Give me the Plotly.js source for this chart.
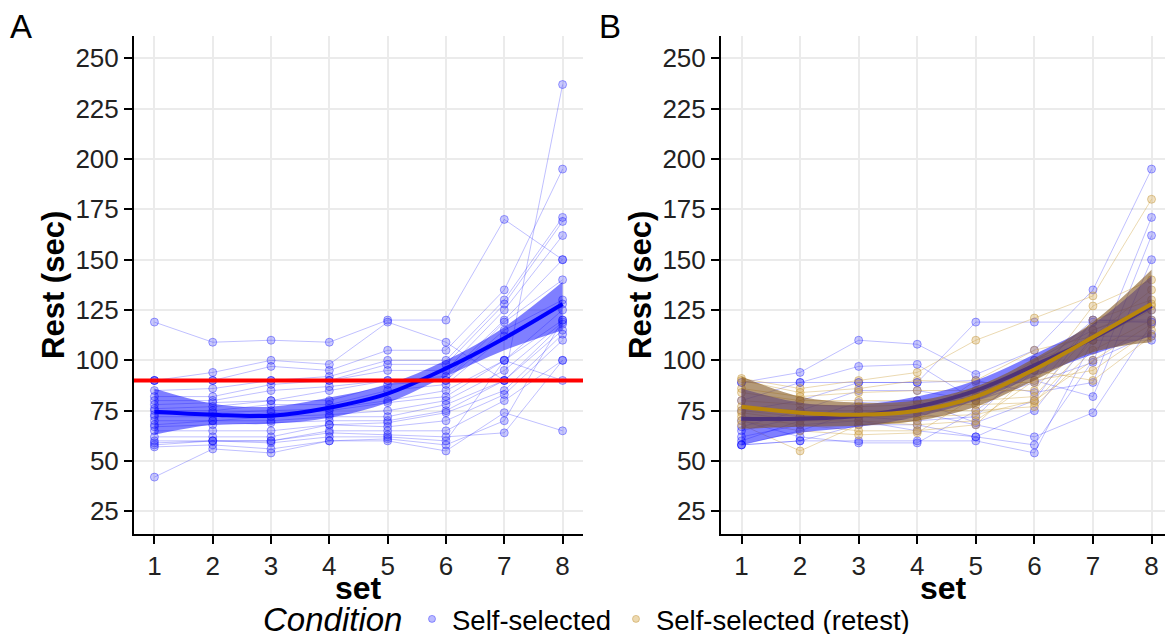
<!DOCTYPE html>
<html>
<head>
<meta charset="utf-8">
<script src="https://cdn.plot.ly/plotly-3.0.1.min.js"></script>
<style>html,body{margin:0;padding:0;background:#fff;}#chart{width:1165px;height:634px;}</style>
</head>
<body>
<div id="chart"></div>
<script>
// ---------------- data ----------------
const sets = [1, 2, 3, 4, 5, 6, 7, 8];
const yTicks = [25, 50, 75, 100, 125, 150, 175, 200, 225, 250];
const threshold = 90;

// Panel A: self-selected rest per participant (sets 1..8)
const restA = [
  [119, 109, 110, 109, 120, 120, 170, 150],
  [90, 94, 100, 98, 119, 109, 90, 237],
  [90, 90, 97, 95, 105, 105, 135, 195],
  [90, 90, 90, 92, 100, 100, 130, 171],
  [85, 86, 90, 90, 98, 98, 128, 169],
  [82, 82, 88, 90, 95, 95, 125, 162],
  [80, 80, 85, 87, 90, 92, 120, 150],
  [78, 79, 80, 85, 90, 90, 119, 140],
  [76, 77, 80, 80, 88, 90, 115, 130],
  [75, 75, 78, 78, 85, 88, 112, 128],
  [73, 74, 75, 76, 80, 85, 100, 125],
  [72, 72, 74, 75, 79, 82, 100, 120],
  [70, 70, 72, 73, 75, 80, 95, 119],
  [68, 70, 70, 72, 72, 78, 90, 118],
  [67, 68, 69, 70, 70, 75, 90, 115],
  [65, 65, 65, 68, 69, 74, 85, 113],
  [62, 62, 62, 68, 67, 70, 83, 110],
  [60, 60, 60, 65, 65, 65, 80, 100],
  [59, 60, 60, 64, 63, 62, 64, 100],
  [58, 60, 59, 62, 62, 60, 100, 90],
  [57, 58, 56, 60, 61, 58, 70, 120],
  [42, 56, 54, 60, 60, 55, 74, 65]
];
const fitA = [74.5, 73, 72.5, 76.5, 83.5, 96, 111, 128];
const fitALo = [63, 68, 68.5, 71.5, 79, 92, 105, 115];
const fitAHi = [86, 78.5, 77, 81.5, 88, 100, 116.5, 139];

// Panel B: self-selected (blue) and retest (tan) per participant
const restB = [
  [89, 94, 110, 108, 93, 105, 135, 195],
  [80, 89, 97, 98, 80, 89, 99, 171],
  [75, 80, 89, 89, 90, 84, 89, 162],
  [67, 75, 85, 85, 80, 90, 82, 150],
  [60, 70, 79, 80, 69, 80, 120, 119],
  [58, 65, 75, 74, 68, 62, 74, 118],
  [58, 60, 68, 68, 62, 58, 100, 113],
  [58, 60, 60, 60, 60, 54, 110, 110],
  [70, 62, 59, 59, 75, 95, 120, 120],
  [65, 72, 72, 70, 72, 100, 115, 125],
  [62, 68, 70, 65, 62, 75, 112, 112],
  [89, 89, 89, 89, 119, 119, 119, 119]
];
const retestB = [
  [91, 86, 90, 94, 110, 121, 132, 180],
  [90, 84, 86, 90, 89, 89, 127, 140],
  [86, 82, 84, 85, 85, 85, 120, 130],
  [84, 80, 80, 80, 80, 82, 115, 127],
  [80, 78, 77, 78, 78, 79, 110, 125],
  [77, 75, 75, 75, 75, 77, 105, 120],
  [75, 72, 72, 72, 73, 80, 100, 118],
  [74, 70, 70, 68, 70, 90, 95, 115],
  [72, 68, 65, 65, 68, 95, 90, 112],
  [70, 65, 63, 64, 82, 100, 110, 128],
  [68, 55, 68, 70, 90, 105, 112, 135]
];
const fitB = [71, 71, 72.5, 77, 85, 97.5, 111, 127];
const fitBLo = [58, 64, 67, 72, 80, 92, 103, 112];
const fitBHi = [86, 79, 78, 82, 90, 103, 118, 142];
const fitR = [77, 74, 73, 75, 82, 95.5, 111.5, 128];
const fitRLo = [66, 67, 67.5, 70, 77, 90, 104, 109];
const fitRHi = [92, 82, 79, 80, 87, 101, 119, 145];

const conditionNames = ['Self-selected', 'Self-selected (retest)'];
const legendTitle = 'Condition';
const xTitle = 'set';
const yTitle = 'Rest (sec)';
const panelLabels = ['A', 'B'];

// ---------------- styles ----------------
const FONT = 'Liberation Sans, Arial, sans-serif';
const BLUE_LINE = 'rgba(0,0,255,0.25)';
const BLUE_FILL = 'rgba(60,60,255,0.28)';
const BLUE_EDGE = 'rgba(0,0,255,0.35)';
const TAN_LINE = 'rgba(205,160,60,0.40)';
const TAN_FILL = 'rgba(215,170,80,0.35)';
const TAN_EDGE = 'rgba(190,145,50,0.45)';

const traces = [];
function addIndividuals(rows, xa, ya, lc, mf, me) {
  rows.forEach(r => traces.push({
    type: 'scatter', mode: 'lines+markers', x: sets, y: r, xaxis: xa, yaxis: ya,
    line: {color: lc, width: 1},
    marker: {size: 8, color: mf, line: {color: me, width: 1}},
    showlegend: false, hoverinfo: 'skip'
  }));
}
function addRibbon(lo, hi, xa, ya, fill) {
  traces.push({type: 'scatter', mode: 'lines', x: sets, y: hi, xaxis: xa, yaxis: ya,
    line: {width: 0, shape: 'spline'}, showlegend: false, hoverinfo: 'skip'});
  traces.push({type: 'scatter', mode: 'lines', x: sets, y: lo, xaxis: xa, yaxis: ya,
    line: {width: 0, shape: 'spline'}, fill: 'tonexty', fillcolor: fill,
    showlegend: false, hoverinfo: 'skip'});
}
function addFit(y, xa, ya, col) {
  traces.push({type: 'scatter', mode: 'lines', x: sets, y: y, xaxis: xa, yaxis: ya,
    line: {color: col, width: 4, shape: 'spline'}, showlegend: false, hoverinfo: 'skip'});
}

// Panel A
addIndividuals(restA, 'x', 'y', BLUE_LINE, BLUE_FILL, BLUE_EDGE);
addRibbon(fitALo, fitAHi, 'x', 'y', 'rgba(0,0,255,0.5)');
addFit(fitA, 'x', 'y', '#0000ff');

// Panel B
addIndividuals(restB, 'x2', 'y2', BLUE_LINE, BLUE_FILL, BLUE_EDGE);
addIndividuals(retestB, 'x2', 'y2', TAN_LINE, TAN_FILL, TAN_EDGE);
addRibbon(fitBLo, fitBHi, 'x2', 'y2', 'rgba(0,0,255,0.5)');
addFit(fitB, 'x2', 'y2', '#0000ff');
addRibbon(fitRLo, fitRHi, 'x2', 'y2', 'rgba(130,85,30,0.6)');
addFit(fitR, 'x2', 'y2', '#b8860b');

// legend entries
traces.push({type: 'scatter', mode: 'markers', x: [null], y: [null], name: conditionNames[0],
  marker: {size: 7, color: 'rgba(60,60,255,0.35)', line: {color: BLUE_EDGE, width: 1}}, showlegend: true});
traces.push({type: 'scatter', mode: 'markers', x: [null], y: [null], name: conditionNames[1],
  marker: {size: 7, color: 'rgba(215,170,80,0.45)', line: {color: TAN_EDGE, width: 1}}, showlegend: true});

const W = 1165, H = 634;
function xAxis(domain, range) {
  return {
    domain: domain, range: range, tickvals: sets, ticktext: sets.map(String),
    showline: true, linecolor: '#000', linewidth: 2, mirror: false,
    ticks: 'outside', ticklen: 8, tickwidth: 2, tickcolor: '#000',
    showgrid: true, gridcolor: '#ebebeb', gridwidth: 2, zeroline: false,
    tickfont: {family: FONT, size: 26, color: '#222'},
    fixedrange: true
  };
}
function yAxis(anchor) {
  return {
    domain: [1 - 534 / H, 1 - 35.7 / H], range: [13.75, 261.25], tickvals: yTicks,
    anchor: anchor,
    showline: true, linecolor: '#000', linewidth: 2, mirror: false,
    ticks: 'outside', ticklen: 8, tickwidth: 2, tickcolor: '#000',
    showgrid: true, gridcolor: '#ebebeb', gridwidth: 2, zeroline: false,
    tickfont: {family: FONT, size: 26, color: '#222'},
    title: {text: yTitle, font: {family: FONT, size: 31, color: '#000', weight: 'bold'}, standoff: 2},
    fixedrange: true
  };
}

const titleFont = {family: FONT, size: 32, color: '#000', weight: 'bold'};
const layout = {
  width: W, height: H,
  margin: {l: 0, r: 0, t: 0, b: 0, autoexpand: false},
  paper_bgcolor: '#fff', plot_bgcolor: '#fff',
  font: {family: FONT, color: '#000'},
  xaxis: Object.assign(xAxis([134 / W, 583 / W], [0.65, 8.35]), {anchor: 'y'}),
  yaxis: yAxis('x'),
  xaxis2: Object.assign(xAxis([721 / W, 1], [0.65, 8.23]), {anchor: 'y2'}),
  yaxis2: yAxis('x2'),
  shapes: [{type: 'line', xref: 'x domain', yref: 'y', x0: 0, x1: 1, y0: threshold, y1: threshold,
    line: {color: '#ff0000', width: 4}, layer: 'above'}],
  annotations: [
    {text: panelLabels[0], xref: 'paper', yref: 'paper', x: 8 / W, y: 1 - 6 / H, xanchor: 'left', yanchor: 'top',
      showarrow: false, font: {family: FONT, size: 33, color: '#000'}},
    {text: panelLabels[1], xref: 'paper', yref: 'paper', x: 597 / W, y: 1 - 6 / H, xanchor: 'left', yanchor: 'top',
      showarrow: false, font: {family: FONT, size: 33, color: '#000'}},
    {text: xTitle, xref: 'x domain', yref: 'paper', x: 0.5, y: 1 - 588 / H, xanchor: 'center', yanchor: 'middle',
      showarrow: false, font: titleFont},
    {text: xTitle, xref: 'x2 domain', yref: 'paper', x: 0.5, y: 1 - 588 / H, xanchor: 'center', yanchor: 'middle',
      showarrow: false, font: titleFont},
    {text: legendTitle, xref: 'paper', yref: 'paper', x: 261 / W, y: 1 - 619 / H, xanchor: 'left', yanchor: 'middle',
      showarrow: false, font: {family: FONT, size: 33, style: 'italic', color: '#000'}}
  ],
  showlegend: true,
  legend: {
    orientation: 'h', x: 412 / W, xanchor: 'left', y: 1 - 619 / H, yanchor: 'middle',
    traceorder: 'normal',
    font: {family: FONT, size: 27.5, color: '#000'},
    bgcolor: 'rgba(0,0,0,0)', itemwidth: 30, tracegroupgap: 0
  }
};

Plotly.newPlot('chart', traces, layout, {staticPlot: true, displayModeBar: false});
</script>
</body>
</html>
